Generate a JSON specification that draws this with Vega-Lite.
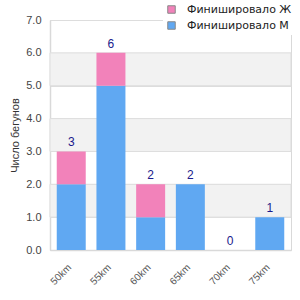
{
  "$schema": "https://vega.github.io/schema/vega-lite/v6.json",
  "width": 241,
  "height": 230,
  "autosize": {"type": "none"},
  "padding": {"left": 50, "top": 20, "right": 9, "bottom": 50},
  "background": "white",
  "config": {
    "view": {"stroke": "#d9d9d9", "strokeWidth": 1},
    "font": "Liberation Sans",
    "axis": {"labelOverlap": false},
    "axisY": {"tickCount": 8, "tickMinStep": 1, "labelOverlap": false}
  },
  "datasets": {
    "runners": [
      {"dist": "50km", "sex": "Финишировало М", "n": 2},
      {"dist": "50km", "sex": "Финишировало Ж", "n": 1},
      {"dist": "55km", "sex": "Финишировало М", "n": 5},
      {"dist": "55km", "sex": "Финишировало Ж", "n": 1},
      {"dist": "60km", "sex": "Финишировало М", "n": 1},
      {"dist": "60km", "sex": "Финишировало Ж", "n": 1},
      {"dist": "65km", "sex": "Финишировало М", "n": 2},
      {"dist": "65km", "sex": "Финишировало Ж", "n": 0},
      {"dist": "70km", "sex": "Финишировало М", "n": 0},
      {"dist": "70km", "sex": "Финишировало Ж", "n": 0},
      {"dist": "75km", "sex": "Финишировало М", "n": 1},
      {"dist": "75km", "sex": "Финишировало Ж", "n": 0}
    ],
    "bands": [
      {"lo": 1, "hi": 2},
      {"lo": 3, "hi": 4},
      {"lo": 5, "hi": 6}
    ]
  },
  "layer": [
    {
      "data": {"name": "bands"},
      "mark": {"type": "rect", "color": "#f2f2f2", "stroke": "#dddddd", "strokeWidth": 1},
      "encoding": {
        "y": {"field": "lo", "type": "quantitative", "scale": {"domain": [0, 7], "nice": false}},
        "y2": {"field": "hi"}
      }
    },
    {
      "data": {"name": "runners"},
      "mark": {"type": "bar"},
      "encoding": {
        "x": {
          "field": "dist", "type": "nominal", "sort": null,
          "scale": {"paddingInner": 0.27, "paddingOuter": 0.17},
          "axis": {"title": null, "labelAngle": -45, "ticks": false, "labelColor": "#555555", "labelFontSize": 10, "labelPadding": 12, "labelOffset": -5, "domainColor": "#d9d9d9", "domainWidth": 1.5}
        },
        "y": {
          "field": "n", "type": "quantitative", "aggregate": "sum", "stack": "zero",
          "scale": {"domain": [0, 7], "nice": false},
          "axis": {"title": "Число бегунов", "titleFontSize": 11, "titleFontWeight": "normal", "titleColor": "#333333", "titlePadding": 5, "values": [0,1,2,3,4,5,6,7], "tickCount": 8, "tickMinStep": 1, "format": ".1f", "ticks": false, "labelColor": "#444444", "labelFontSize": 11, "labelPadding": 9, "labelOverlap": false, "labelSeparation": 0, "domainColor": "#d9d9d9", "domainWidth": 1.5, "gridColor": "#dddddd", "grid": true}
        },
        "color": {
          "field": "sex", "type": "nominal",
          "scale": {"domain": ["Финишировало Ж", "Финишировало М"], "range": ["#f282ba", "#60a8f2"]},
          "legend": {
            "title": null, "orient": "none", "legendX": 113, "legendY": -19,
            "symbolType": "square", "symbolSize": 56, "symbolStrokeColor": "#888888", "symbolStrokeWidth": 1,
            "labelFont": "DejaVu Sans", "labelFontSize": 11, "labelColor": "#222222", "labelOffset": 10, "rowPadding": 3,
            "fillColor": "white", "padding": 3
          }
        },
        "order": {"field": "sex", "sort": "descending"}
      }
    },
    {
      "data": {"name": "runners"},
      "transform": [{"aggregate": [{"op": "sum", "field": "n", "as": "total"}], "groupby": ["dist"]}],
      "mark": {"type": "text", "dy": -9, "color": "#1a1a8c", "fontSize": 12},
      "encoding": {
        "x": {"field": "dist", "type": "nominal", "sort": null},
        "y": {"field": "total", "type": "quantitative"},
        "text": {"field": "total", "type": "quantitative"}
      }
    }
  ]
}
